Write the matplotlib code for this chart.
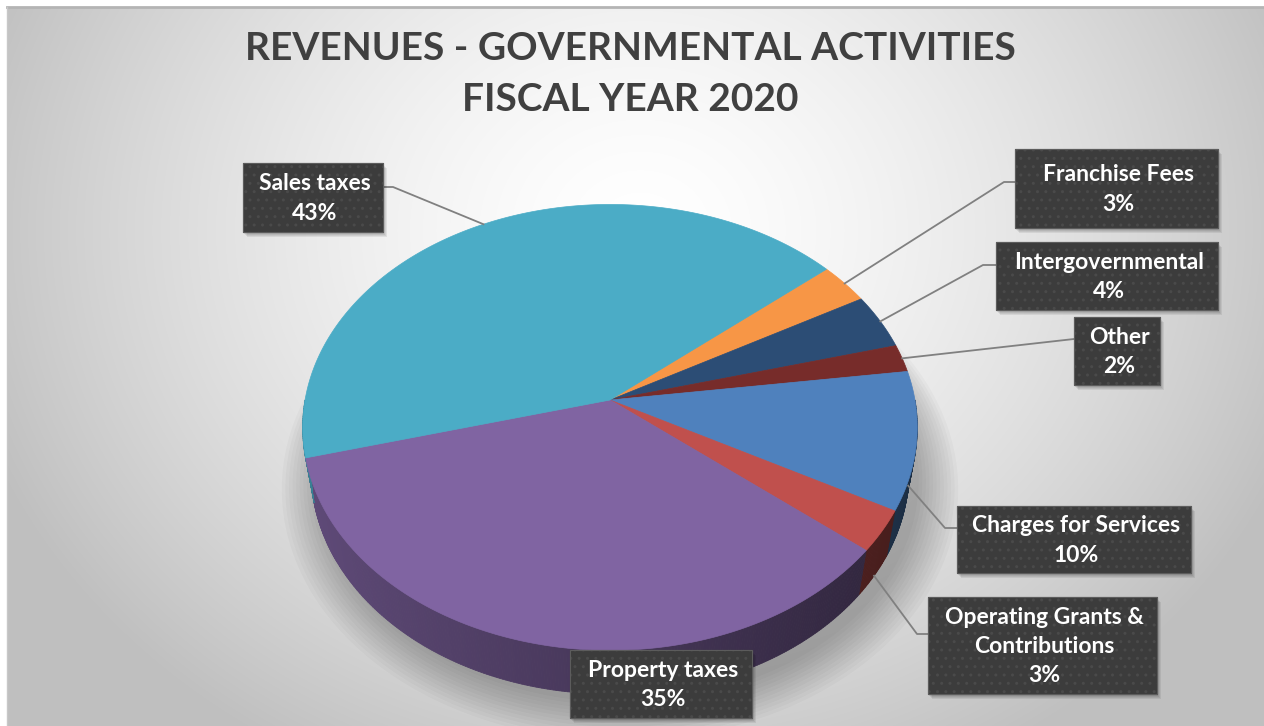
import numpy as np
import matplotlib.pyplot as plt
from matplotlib.patches import Polygon, Rectangle

# --- DATA ---
categories = ["Franchise Fees", "Intergovernmental", "Other", "Charges for Services",
              "Operating Grants &\nContributions", "Property taxes", "Sales taxes"]
shares = [3, 4, 2, 10, 3, 35, 43]
colors = ["#F79646", "#2C4D75", "#772C2A", "#4F81BD", "#C0504D", "#8064A2", "#4BACC6"]

TITLE = "REVENUES - GOVERNMENTAL ACTIVITIES\nFISCAL YEAR 2020"

# --- PARAMETERS ---
W, H = 1264, 726
CX, CY = 610, 400        # pie centre (pixels)
FOCAL = 1723.0
DIST = 5.65
ELEV = np.arcsin(0.72)
DEPTH = 0.22
START = 40.0             # angle of the first slice edge, slices go clockwise

# label boxes (x0, y0, x1, y1), leader elbow, anchor on the pie (0 = top rim, 1 = bottom rim)
label_boxes = [(1015, 149, 1218, 228), (996, 242, 1218, 310), (1074, 317, 1160, 385),
               (957, 506, 1191, 573), (928, 597, 1157, 694), (570, 650, 752, 718),
               (243, 163, 383, 232)]
elbows = [(1004, 182), (983, 265), None, (945, 528), (917, 634), None, (393, 187)]
anchor_depth = [0, 0, 0, 1, 1, None, 0]


def project(theta_deg, z=0.0):
    """Perspective projection of a point on the pie rim (radius 1) to pixels."""
    t = np.radians(theta_deg)
    x3, y3 = np.cos(t), np.sin(t)
    up = y3 * np.sin(ELEV) + z * np.cos(ELEV)
    d = DIST + y3 * np.cos(ELEV) - z * np.sin(ELEV)
    return CX + FOCAL * x3 / d, CY - FOCAL * up / d


def shade(color, f):
    rgb = np.array(plt.matplotlib.colors.to_rgb(color))
    return tuple(np.clip(rgb * f, 0, 1))


fig = plt.figure(figsize=(W / 100, H / 100), dpi=100)
ax = fig.add_axes([0, 0, 1, 1])

# background: soft radial grey gradient inside a thin frame
yy, xx = np.mgrid[0:H - 7, 0:W - 7]
r = np.sqrt(((xx + 7 - 640) / 720.0) ** 2 + ((yy + 7 - 230) / 620.0) ** 2)
g = np.clip(1.0 - 0.26 * r ** 1.5, 0.75, 1.0)
ax.imshow(np.dstack([g, g, g]), extent=(7, W, H, 7), origin="upper", aspect="auto", zorder=0)
ax.plot([7, W], [7, 7], color="#b4b4b4", lw=2, zorder=1)
ax.plot([7, 7], [7, H], color="#c8c8c8", lw=1, zorder=1)

# slice edges (clockwise from START)
edges = START - 3.6 * np.concatenate([[0], np.cumsum(shares)])

# soft shadow under the pie
ring = np.linspace(0, 360, 361)
for k in range(12):
    sx, sy = project(ring, -DEPTH)
    sc = 1.0 + 0.012 * k
    px = CX + (sx - CX) * sc + 10
    py = CY + (sy - CY) * sc + 8
    ax.add_patch(Polygon(np.column_stack([px, py]), closed=True, facecolor="black",
                         edgecolor="none", alpha=0.025, zorder=2))

# side walls on the front half, shaded by angle
for i, col in enumerate(colors):
    lo, hi = edges[i + 1], edges[i]
    a0, a1 = max(lo, -180.0), min(hi, 0.0)
    if a1 <= a0:
        continue
    steps = np.linspace(a0, a1, max(2, int((a1 - a0) * 2) + 1))
    for s0, s1 in zip(steps[:-1], steps[1:]):
        tx0, ty0 = project(s0, 0)
        tx1, ty1 = project(s1, 0)
        bx1, by1 = project(s1, -DEPTH)
        bx0, by0 = project(s0, -DEPTH)
        c = shade(col, 0.55 - 0.2 * np.cos(np.radians((s0 + s1) / 2)))
        ax.add_patch(Polygon([(tx0, ty0), (tx1, ty1), (bx1, by1), (bx0, by0)], closed=True,
                             facecolor=c, edgecolor=c, lw=0.6, zorder=3))

# top faces
for i, col in enumerate(colors):
    lo, hi = edges[i + 1], edges[i]
    arc = np.linspace(lo, hi, max(3, int(hi - lo) * 2))
    ax_, ay_ = project(arc, 0)
    pts = np.vstack([[CX, CY], np.column_stack([ax_, ay_])])
    ax.add_patch(Polygon(pts, closed=True, facecolor=col, edgecolor=col, lw=0.5, zorder=4))

# leader lines and data labels
for i, name in enumerate(categories):
    x0, y0, x1, y1 = label_boxes[i]
    mid = (edges[i] + edges[i + 1]) / 2
    if anchor_depth[i] is not None:
        axp, ayp = project(mid, -DEPTH * anchor_depth[i])
        if elbows[i] is not None:
            ex, ey = elbows[i]
            bx = x1 if ex > x1 else x0
            ax.plot([axp, ex, bx], [ayp, ey, ey], color="#808080", lw=1.3, zorder=5)
        else:
            ax.plot([axp, x0], [ayp, (y0 + y1) / 2 - 12], color="#808080", lw=1.3, zorder=5)

    for k in range(4):
        ax.add_patch(Rectangle((x0 + 1 + k, y0 + 2 + k), x1 - x0, y1 - y0, facecolor="black",
                               edgecolor="none", alpha=0.07, zorder=6))
    ax.add_patch(Rectangle((x0, y0), x1 - x0, y1 - y0, facecolor="#3c3c3c",
                           edgecolor="#4a4a4a", hatch="..", lw=0.8, zorder=7))
    ax.add_patch(Rectangle((x0, y0), x1 - x0, y1 - y0, facecolor="none",
                           edgecolor="#5c5c5c", lw=0.8, zorder=8))
    ax.text((x0 + x1) / 2 + 2, (y0 + y1) / 2 + 1, f"{name}\n{shares[i]}%", ha="center",
            va="center", color="white", fontsize=16.5, fontweight="bold",
            family=["Lato", "DejaVu Sans"], linespacing=1.5, zorder=9)

ax.text(630, 74, TITLE, ha="center", va="center", color="#404040", fontsize=28,
        fontweight="bold", family=["Lato", "DejaVu Sans"], linespacing=1.55, zorder=9)

ax.set_xlim(0, W)
ax.set_ylim(H, 0)
ax.axis("off")
fig.savefig("out.png", dpi=100, facecolor="white")
